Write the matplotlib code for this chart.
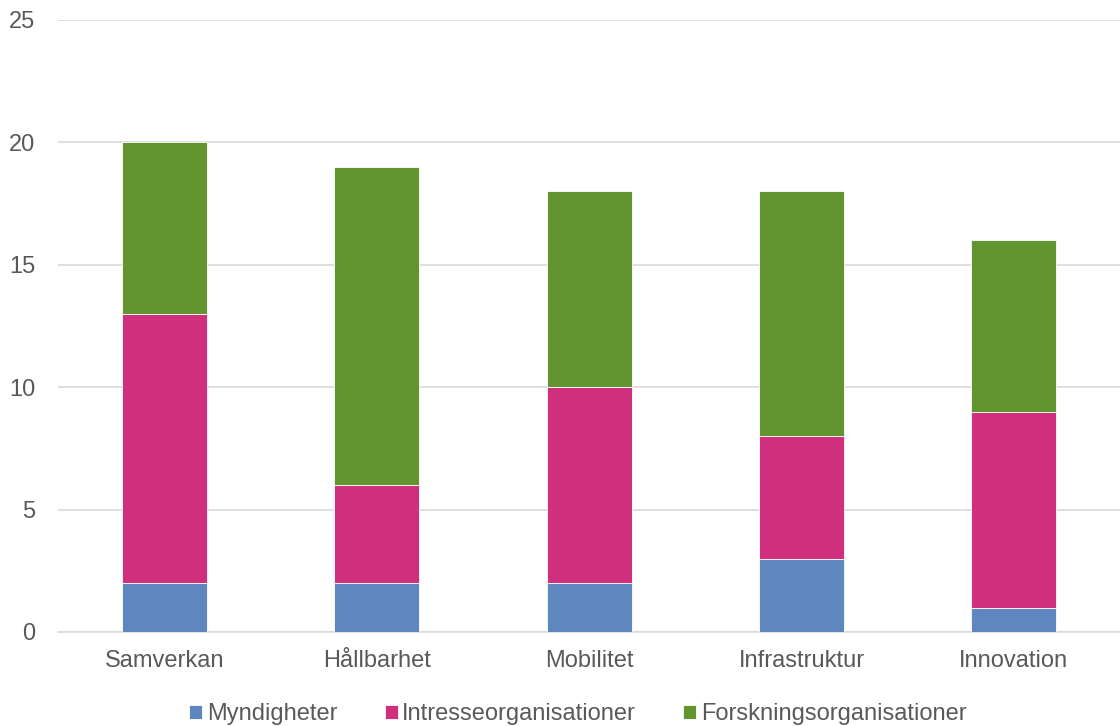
import numpy as np
import matplotlib.pyplot as plt

categories = ['Samverkan', 'Hållbarhet', 'Mobilitet', 'Infrastruktur', 'Innovation']
myndigheter = [2, 2, 2, 3, 1]
intresse = [11, 4, 8, 5, 8]
forskning = [7, 13, 8, 10, 7]

series_names = ['Myndigheter', 'Intresseorganisationer', 'Forskningsorganisationer']
colors = ['#5E87BF', '#D02F7E', '#62942F']

plt.rcParams['font.family'] = ['Liberation Sans', 'DejaVu Sans']
txt = '#595959'

fig = plt.figure(figsize=(11.2, 7.26), dpi=100)
ax = fig.add_axes([0.052, 0.1295, 0.948, 0.843])

x = np.arange(len(categories))
bottom = np.zeros(len(categories))
for vals, name, c in zip([myndigheter, intresse, forskning], series_names, colors):
    ax.bar(x, vals, 0.4, bottom=bottom, color=c, label=name, zorder=3,
           edgecolor='white', linewidth=0.6)
    bottom += np.array(vals)

ax.set_xlim(-0.5, 4.5)
ax.set_ylim(0, 25)
ax.set_yticks(range(0, 26, 5))
ax.set_xticks(x)
ax.set_xticklabels(categories)
ax.grid(axis='y', color='#D9D9D9', linewidth=1.2, zorder=0)
for s in ['top', 'right', 'left']:
    ax.spines[s].set_visible(False)
ax.spines['bottom'].set_color('#D9D9D9')
ax.spines['bottom'].set_linewidth(1.2)
ax.tick_params(axis='both', length=0, labelsize=17, colors=txt)
ax.tick_params(axis='y', pad=16.5)
ax.tick_params(axis='x', pad=13)

leg = fig.legend(loc='lower center', bbox_to_anchor=(0.516, -0.028), ncol=3, frameon=False,
                 fontsize=17, handlelength=0.55, handleheight=0.55, handletextpad=0.2,
                 columnspacing=2.0)
for t in leg.get_texts():
    t.set_color(txt)

fig.savefig('out.png', dpi=100)
